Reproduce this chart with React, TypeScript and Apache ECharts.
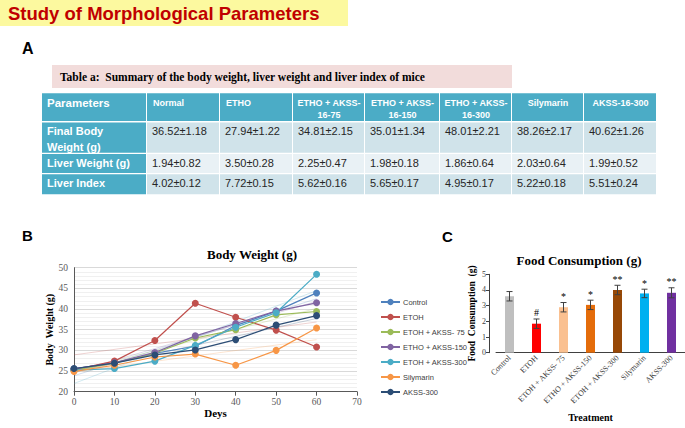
import React, { useEffect, useRef } from "react";
import * as echarts from "echarts";

// ---------- DATA ----------
const mainTitle = "Study of Morphological Parameters";
const tableCaption = "Table a:  Summary of the body weight, liver weight and liver index of mice";
const tableHeaders = [
  "Parameters",
  "Normal",
  "ETHO",
  "ETHO + AKSS-\n16-75",
  "ETHO + AKSS-\n16-150",
  "ETHO + AKSS-\n16-300",
  "Silymarin",
  "AKSS-16-300",
];
const rowLabels = ["Final Body\nWeight (g)", "Liver Weight (g)", "Liver Index"];
const bodyWeightMean = [36.52, 27.94, 34.81, 35.01, 48.01, 38.26, 40.62];
const bodyWeightSd = [1.18, 1.22, 2.15, 1.34, 2.21, 2.17, 1.26];
const liverWeightMean = [1.94, 3.5, 2.25, 1.98, 1.86, 2.03, 1.99];
const liverWeightSd = [0.82, 0.28, 0.47, 0.18, 0.64, 0.64, 0.52];
const liverIndexMean = [4.02, 7.72, 5.62, 5.65, 4.95, 5.22, 5.51];
const liverIndexSd = [0.12, 0.15, 0.16, 0.17, 0.17, 0.18, 0.24];

const bwTitle = "Body Weight (g)";
const days = [0, 10, 20, 30, 40, 50, 60];
const bwNames = [
  "Control",
  "ETOH",
  "ETOH + AKSS- 75",
  "ETHO + AKSS-150",
  "ETOH + AKSS-300",
  "Silymarin",
  "AKSS-300",
];
const bwControl = [25.5, 27.0, 29.3, 31.0, 36.0, 39.5, 43.9];
const bwEtoh = [25.3, 27.4, 32.4, 41.4, 38.0, 34.9, 30.8];
const bwAkss75 = [25.2, 26.9, 29.3, 33.0, 35.0, 38.6, 39.4];
const bwAkss150 = [25.5, 27.0, 29.5, 33.5, 36.5, 39.5, 41.5];
const bwAkss300 = [25.2, 25.6, 27.4, 31.2, 35.6, 39.1, 48.4];
const bwSilymarin = [24.9, 26.4, 28.4, 29.1, 26.4, 30.0, 35.4];
const bwAkssOnly300 = [25.6, 26.9, 28.9, 30.1, 32.6, 36.1, 38.4];
const bwTicksY = { min: 20, max: 50, interval: 5 };
const bwTicksX = { min: 0, max: 70, interval: 10 };

const fcTitle = "Food Consumption (g)";
const fcCategories = [
  "Control",
  "ETOH",
  "ETOH + AKSS- 75",
  "ETHO + AKSS-150",
  "ETOH + AKSS-300",
  "Silymarin",
  "AKSS-300",
];
const fcMean = [3.6, 1.85, 2.9, 3.05, 4.0, 3.78, 3.82];
const fcErr = [0.3, 0.3, 0.3, 0.3, 0.3, 0.27, 0.32];
const fcSig = ["", "#", "*", "*", "**", "*", "**"];

// ---------- STYLE / LAYOUT ----------
const bwColors = ["#4F81BD", "#C0504D", "#9BBB59", "#8064A2", "#4BACC6", "#F79646", "#2C4D75"];
const fcColors = ["#BFBFBF", "#FF0000", "#FAC090", "#E46C0A", "#974806", "#00B0F0", "#7030A0"];
const colEdges = [42, 147, 220, 293, 365, 440, 512, 584, 657];
const rowEdges = [93.3, 122.5, 154, 174.3, 195.5];
const headerAlign = ["left", "left", "left", "center", "center", "center", "center", "center"];
const SANS = "'Liberation Sans', Arial, sans-serif";
const SERIF = "'Liberation Serif', 'Times New Roman', serif";

function fmt(m: number, s: number) {
  return m.toFixed(2) + "±" + s.toFixed(2);
}

function regression(xs: number[], ys: number[]) {
  const n = xs.length;
  const mx = xs.reduce((a, b) => a + b, 0) / n;
  const my = ys.reduce((a, b) => a + b, 0) / n;
  let num = 0;
  let den = 0;
  for (let i = 0; i < n; i++) {
    num += (xs[i] - mx) * (ys[i] - my);
    den += (xs[i] - mx) * (xs[i] - mx);
  }
  const b = num / den;
  const a = my - b * mx;
  return [
    [xs[0], a + b * xs[0]],
    [xs[n - 1], a + b * xs[n - 1]],
  ];
}

function buildGraphics() {
  const g: any[] = [];
  g.push({ type: "rect", shape: { x: 0, y: 0, width: 348, height: 26 }, style: { fill: "#FCF99F" } });
  g.push({
    type: "text",
    x: 8,
    y: 13.5,
    style: {
      text: mainTitle,
      fill: "#C00000",
      font: `bold 18.5px ${SANS}`,
      textAlign: "left",
      textVerticalAlign: "middle",
    },
  });
  const letters = [
    { t: "A", x: 22, y: 48, s: 16 },
    { t: "B", x: 22, y: 235, s: 15 },
    { t: "C", x: 442, y: 236, s: 15 },
  ];
  letters.forEach((l) =>
    g.push({
      type: "text",
      x: l.x,
      y: l.y,
      style: { text: l.t, fill: "#000", font: `bold ${l.s}px ${SANS}`, textVerticalAlign: "middle" },
    })
  );
  g.push({ type: "rect", shape: { x: 52, y: 65, width: 460, height: 23 }, style: { fill: "#F2DCDB" } });
  g.push({
    type: "text",
    x: 60,
    y: 76.5,
    style: {
      text: tableCaption,
      fill: "#000",
      font: `bold 11.5px ${SERIF}`,
      textVerticalAlign: "middle",
    },
  });
  const rows = [
    bodyWeightMean.map((m, i) => fmt(m, bodyWeightSd[i])),
    liverWeightMean.map((m, i) => fmt(m, liverWeightSd[i])),
    liverIndexMean.map((m, i) => fmt(m, liverIndexSd[i])),
  ];
  const rowFills = ["#D0E3EA", "#E9F1F5", "#D0E3EA"];
  const teal = "#4BACC6";
  for (let c = 0; c < tableHeaders.length; c++) {
    const x0 = colEdges[c];
    const x1 = colEdges[c + 1];
    g.push({
      type: "rect",
      shape: { x: x0, y: rowEdges[0], width: x1 - x0 - 1, height: rowEdges[1] - rowEdges[0] - 1.5 },
      style: { fill: teal },
    });
    const isFirst = c === 0;
    const align = headerAlign[c];
    g.push({
      type: "text",
      x: align === "center" ? (x0 + x1) / 2 : x0 + (isFirst ? 5 : 6),
      y: isFirst ? rowEdges[0] + 2 : rowEdges[0] + 3.2,
      style: {
        text: tableHeaders[c],
        fill: "#fff",
        font: isFirst ? `bold 11.5px ${SANS}` : `bold 9px ${SANS}`,
        lineHeight: isFirst ? 16 : 12.5,
        textAlign: align,
        textVerticalAlign: "top",
      },
    });
  }
  for (let r = 0; r < rows.length; r++) {
    const y0 = rowEdges[r + 1];
    const y1 = rowEdges[r + 2];
    for (let c = 0; c < tableHeaders.length; c++) {
      const x0 = colEdges[c];
      const x1 = colEdges[c + 1];
      g.push({
        type: "rect",
        shape: { x: x0, y: y0, width: x1 - x0 - 1, height: y1 - y0 - 1.2 },
        style: { fill: c === 0 ? teal : rowFills[r] },
      });
      g.push({
        type: "text",
        x: x0 + 5,
        y: y0 + 0.5,
        style: {
          text: c === 0 ? rowLabels[r] : rows[r][c - 1],
          fill: c === 0 ? "#fff" : "#262626",
          font: c === 0 ? `bold 11px ${SANS}` : `11px ${SANS}`,
          lineHeight: 16,
          textAlign: "left",
          textVerticalAlign: "top",
        },
      });
    }
  }
  return g;
}

export default function App() {
  const ref = useRef<HTMLDivElement>(null);
  useEffect(() => {
    if (!ref.current) return;
    const chart = echarts.init(ref.current, undefined, { renderer: "svg" });
    const bwAll = [bwControl, bwEtoh, bwAkss75, bwAkss150, bwAkss300, bwSilymarin, bwAkssOnly300];
    const lineSeries: any[] = bwAll.map((vals, i) => ({
      type: "line",
      name: bwNames[i],
      xAxisIndex: 0,
      yAxisIndex: 0,
      data: days.map((d, j) => [d, vals[j]]),
      symbol: "circle",
      symbolSize: 7,
      color: bwColors[i],
      lineStyle: { width: 1.2, color: bwColors[i] },
      itemStyle: { color: bwColors[i] },
      z: 3,
    }));
    const trendSeries: any[] = bwAll.map((vals, i) => ({
      type: "line",
      name: bwNames[i] + " trend",
      xAxisIndex: 0,
      yAxisIndex: 0,
      data: regression(days, vals),
      symbol: "none",
      silent: true,
      lineStyle: { width: 1, color: bwColors[i], opacity: 0.25 },
      z: 2,
    }));
    const option: any = {
      animation: false,
      backgroundColor: "#fff",
      graphic: buildGraphics(),
      title: [
        {
          text: bwTitle,
          left: 247,
          top: 243,
          textAlign: "center",
          textStyle: { fontFamily: SERIF, fontWeight: "bold", fontSize: 13, color: "#000" },
        },
        {
          text: fcTitle,
          left: 574,
          top: 249,
          textAlign: "center",
          textStyle: { fontFamily: SERIF, fontWeight: "bold", fontSize: 13, color: "#000" },
        },
      ],
      legend: {
        data: bwNames,
        orient: "vertical",
        left: 375,
        top: 293,
        itemWidth: 19,
        itemHeight: 8,
        itemGap: 7,
        textStyle: { fontFamily: SANS, fontSize: 7.5, color: "#404040", padding: [0, 0, 0, -2] },
      },
      grid: [
        { left: 74, right: 328, top: 267.7, bottom: 36.3 },
        { left: 496, right: 0, top: 274.3, bottom: 75.3 },
      ],
      xAxis: [
        {
          type: "value",
          gridIndex: 0,
          min: bwTicksX.min,
          max: bwTicksX.max,
          interval: bwTicksX.interval,
          name: "Deys",
          nameLocation: "middle",
          nameGap: 16,
          nameTextStyle: { fontFamily: SERIF, fontWeight: "bold", fontSize: 11, color: "#000" },
          axisLine: { lineStyle: { color: "#595959", width: 1 } },
          axisTick: { show: true, length: 4, lineStyle: { color: "#595959" } },
          axisLabel: { fontFamily: SERIF, fontSize: 9.5, color: "#595959", margin: 5 },
          splitLine: { show: false },
        },
        {
          type: "category",
          gridIndex: 1,
          data: fcCategories,
          name: "Treatment",
          nameLocation: "middle",
          nameGap: 60,
          nameTextStyle: { fontFamily: SERIF, fontWeight: "bold", fontSize: 10, color: "#000" },
          axisLine: { lineStyle: { color: "#404040", width: 1 } },
          axisTick: { show: false },
          axisLabel: { fontFamily: SERIF, fontSize: 8, color: "#404040", rotate: 45, margin: 4, interval: 0 },
        },
      ],
      yAxis: [
        {
          type: "value",
          gridIndex: 0,
          min: bwTicksY.min,
          max: bwTicksY.max,
          interval: bwTicksY.interval,
          name: "Body  Weight (g)",
          nameLocation: "middle",
          nameGap: 17,
          nameTextStyle: { fontFamily: SERIF, fontWeight: "bold", fontSize: 10, color: "#000" },
          axisLine: { show: true, lineStyle: { color: "#595959", width: 1 } },
          axisTick: { show: false },
          axisLabel: { fontFamily: SERIF, fontSize: 9.5, color: "#595959", margin: 6 },
          splitLine: { show: true, lineStyle: { color: "#D9D9D9", width: 1 } },
          minorTick: { show: false, splitNumber: 5 },
          minorSplitLine: { show: true, lineStyle: { color: "#F0F0F0", width: 1 } },
        },
        {
          type: "value",
          gridIndex: 1,
          min: 0,
          max: 5,
          interval: 1,
          offset: 7,
          name: "Food  Consumption  (g)",
          nameLocation: "middle",
          nameGap: 12,
          nameTextStyle: { fontFamily: SERIF, fontWeight: "bold", fontSize: 9.5, color: "#000" },
          axisLine: { show: true, lineStyle: { color: "#404040", width: 1 } },
          axisTick: { show: true, length: 3, lineStyle: { color: "#404040" } },
          axisLabel: { fontFamily: SERIF, fontSize: 8, color: "#404040", margin: 3 },
          splitLine: { show: false },
        },
      ],
      series: [
        ...trendSeries,
        ...lineSeries,
        {
          type: "bar",
          name: "Food Consumption",
          xAxisIndex: 1,
          yAxisIndex: 1,
          barWidth: 9,
          data: fcMean.map((v, i) => ({ value: v, itemStyle: { color: fcColors[i] } })),
        },
        {
          type: "custom",
          name: "Food error",
          xAxisIndex: 1,
          yAxisIndex: 1,
          data: fcMean.map((m, i) => [i, m, fcErr[i]]),
          z: 5,
          renderItem: (params: any, api: any) => {
            const x = api.value(0);
            const m = api.value(1);
            const e = api.value(2);
            const top = api.coord([x, m + e]);
            const bot = api.coord([x, m - e]);
            const h = 3;
            const st = { stroke: "#404040", lineWidth: 1 };
            return {
              type: "group",
              children: [
                { type: "line", shape: { x1: top[0], y1: top[1], x2: bot[0], y2: bot[1] }, style: st },
                { type: "line", shape: { x1: top[0] - h, y1: top[1], x2: top[0] + h, y2: top[1] }, style: st },
                { type: "line", shape: { x1: bot[0] - h, y1: bot[1], x2: bot[0] + h, y2: bot[1] }, style: st },
                {
                  type: "text",
                  x: top[0],
                  y: top[1] - 1,
                  style: {
                    text: fcSig[params.dataIndex],
                    fill: "#000",
                    font: `10px ${SERIF}`,
                    textAlign: "center",
                    textVerticalAlign: "bottom",
                  },
                },
              ],
            };
          },
        },
      ],
    };
    chart.setOption(option);
    return () => chart.dispose();
  }, []);
  return (
    <div
      ref={ref}
      style={{ position: "fixed", left: 0, top: 0, width: 685, height: 428, background: "#fff" }}
    />
  );
}
